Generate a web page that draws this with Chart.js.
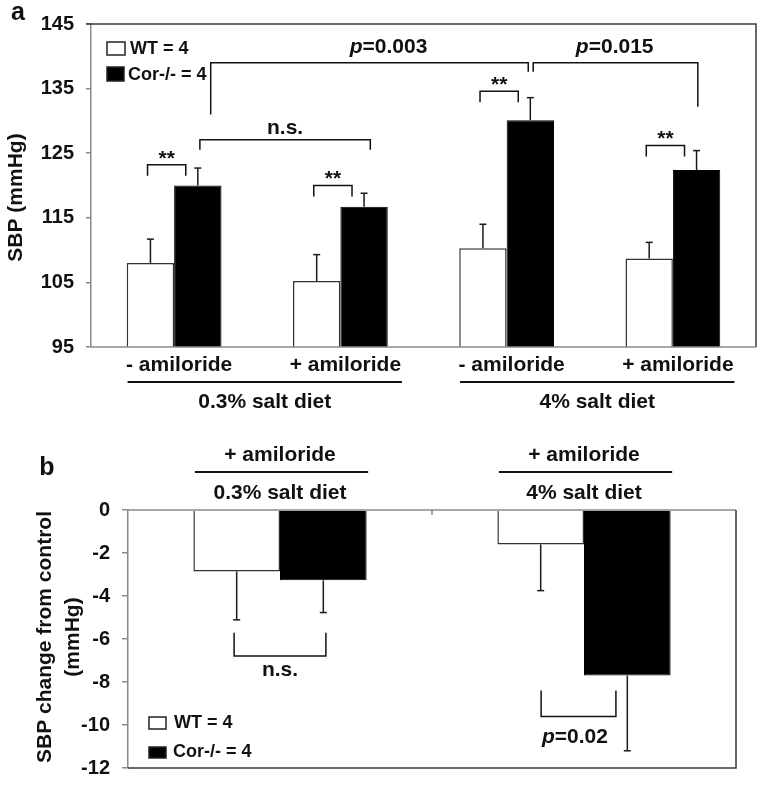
<!DOCTYPE html>
<html>
<head>
<meta charset="utf-8">
<script src="https://cdn.jsdelivr.net/npm/chart.js@4.4.0/dist/chart.umd.min.js"></script>
<style>
  body { margin: 0; background: #fff; }
  #wrap { position: relative; width: 762px; height: 792px; }
  canvas { position: absolute; left: 0; }
</style>
</head>
<body>
<div id="wrap">
  <canvas id="chartA" width="762" height="440" style="top:0"></canvas>
  <canvas id="chartB" width="762" height="352" style="top:440px"></canvas>
</div>
<script>
// panel a: SBP (mmHg)
const labelsA = ['- amiloride', '+ amiloride', '- amiloride', '+ amiloride'];
const dietsA = ['0.3% salt diet', '4% salt diet'];
const wtA = [108.0, 105.2, 110.3, 108.7];
const corA = [120.0, 116.7, 130.1, 122.4];
const wtErrA = [3.7, 4.1, 3.7, 2.5];
const corErrA = [2.7, 2.1, 3.5, 3.0];
const ticksA = [95, 105, 115, 125, 135, 145];

// panel b: SBP change from control
const labelsB = ['+ amiloride', '+ amiloride'];
const dietsB = ['0.3% salt diet', '4% salt diet'];
const wtB = [-2.86, -1.6];
const corB = [-3.27, -7.7];
const wtErrB = [2.25, 2.15];
const corErrB = [1.5, 3.5];
const ticksB = [-12, -10, -8, -6, -4, -2, 0];

const seriesNames = ['WT = 4', 'Cor-/- = 4'];

const FONT = '"Liberation Sans", Arial, sans-serif';
const GREY = '#8a8a8a';
const DARK = '#3a3a3a';
const INK = '#111';

function text(ctx, str, x, y, size, align) {
  ctx.font = `bold ${size}px ${FONT}`;
  ctx.fillStyle = INK;
  ctx.textAlign = align || 'center';
  ctx.textBaseline = 'middle';
  ctx.fillText(str, x, y);
}

function pText(ctx, val, x, y, size) {
  const fi = `italic bold ${size}px ${FONT}`, fb = `bold ${size}px ${FONT}`;
  ctx.font = fi; const w1 = ctx.measureText('p').width;
  ctx.font = fb; const w2 = ctx.measureText('=' + val).width;
  const x0 = x - (w1 + w2) / 2;
  ctx.fillStyle = INK;
  ctx.textAlign = 'left'; ctx.textBaseline = 'middle';
  ctx.font = fi; ctx.fillText('p', x0, y);
  ctx.font = fb; ctx.fillText('=' + val, x0 + w1, y);
}

function path(ctx, pts, color, width) {
  ctx.beginPath();
  ctx.strokeStyle = color || INK;
  ctx.lineWidth = width || 1.5;
  pts.forEach((p, i) => i ? ctx.lineTo(p[0], p[1]) : ctx.moveTo(p[0], p[1]));
  ctx.stroke();
}

function vText(ctx, str, x, y, size) {
  ctx.save();
  ctx.translate(x, y);
  ctx.rotate(-Math.PI / 2);
  text(ctx, str, 0, 0, size);
  ctx.restore();
}

function legendBox(ctx, x, y, w, h, fill) {
  ctx.fillStyle = fill;
  ctx.fillRect(x, y, w, h);
  ctx.strokeStyle = '#222';
  ctx.lineWidth = 1.5;
  ctx.strokeRect(x, y, w, h);
}

// error bars: dir = +1 up, -1 down
const errorBars = {
  id: 'errorBars',
  afterDatasetsDraw(chart, args, opts) {
    const ctx = chart.ctx, y = chart.scales.y;
    ctx.save();
    chart.data.datasets.forEach((ds, di) => {
      chart.getDatasetMeta(di).data.forEach((bar, i) => {
        const ye = y.getPixelForValue(ds.data[i] + opts.dir * ds.errors[i]);
        path(ctx, [[bar.x, bar.y], [bar.x, ye]], '#1a1a1a', 1.5);
        path(ctx, [[bar.x - 3.5, ye], [bar.x + 3.5, ye]], '#1a1a1a', 1.5);
      });
    });
    ctx.restore();
  }
};

function datasets(wt, cor, wtErr, corErr) {
  return [
    { label: seriesNames[0], data: wt, errors: wtErr, backgroundColor: '#fff',
      borderColor: '#333', borderWidth: 1.5, barPercentage: 1, categoryPercentage: 0.57 },
    { label: seriesNames[1], data: cor, errors: corErr, backgroundColor: '#000',
      borderColor: '#000', borderWidth: 1, barPercentage: 1, categoryPercentage: 0.57 }
  ];
}

function yScale(ticks, width, tickLen) {
  return {
    min: ticks[0],
    max: ticks[ticks.length - 1],
    afterBuildTicks: s => { s.ticks = ticks.map(v => ({ value: v })); },
    afterFit: s => { s.width = width; },
    grid: { drawOnChartArea: false, drawTicks: true, tickLength: tickLen, color: GREY, lineWidth: 1.5 },
    border: { display: true, color: GREY, width: 1.5 },
    ticks: { color: INK, padding: 12, font: { family: FONT, size: 20, weight: 'bold' } }
  };
}

const panelA = {
  id: 'panelA',
  afterDraw(chart) {
    const ctx = chart.ctx, a = chart.chartArea;
    const px = v => chart.scales.x.getPixelForValue(v);
    const py = v => chart.scales.y.getPixelForValue(v);
    ctx.save();
    // frame
    path(ctx, [[a.left - 5, a.top], [a.right, a.top], [a.right, a.bottom]], DARK, 1.5);
    path(ctx, [[a.left, a.bottom], [a.right, a.bottom]], GREY, 1.5);

    // ** brackets over each pair
    [123.2, 120.0, 134.6, 126.2].forEach((v, i) => {
      const x1 = px(i - 0.16), x2 = px(i + 0.07), yt = py(v);
      path(ctx, [[x1, yt + 11], [x1, yt], [x2, yt], [x2, yt + 11]]);
      text(ctx, '**', (x1 + x2) / 2, yt - 6, 21);
    });

    // n.s. between -/+ amiloride on 0.3% diet
    const n1 = px(0.155), n2 = px(1.18), ny = py(127.1);
    path(ctx, [[n1, ny + 10], [n1, ny], [n2, ny], [n2, ny + 10]]);
    text(ctx, 'n.s.', (n1 + n2) / 2, ny - 11, 21);

    // p=0.003 and p=0.015
    const top = py(139.0);
    path(ctx, [[px(0.22), py(131.0)], [px(0.22), top], [px(2.13), top], [px(2.13), py(137.6)]]);
    path(ctx, [[px(2.16), py(137.6)], [px(2.16), top], [px(3.15), top], [px(3.15), py(132.2)]]);
    pText(ctx, '0.003', px(1.29), py(141.4), 21);
    pText(ctx, '0.015', px(2.65), py(141.4), 21);

    // category labels and diet groups
    labelsA.forEach((l, i) => text(ctx, l, px(i) + 5, a.bottom + 18, 21));
    dietsA.forEach((d, g) => {
      const x1 = px(2 * g - 0.28), x2 = px(2 * g + 1.37);
      path(ctx, [[x1, a.bottom + 35], [x2, a.bottom + 35]], INK, 2);
      text(ctx, d, (x1 + x2) / 2, a.bottom + 55, 21);
    });

    // legend
    const ds = chart.data.datasets;
    legendBox(ctx, a.left + 16, a.top + 18, 18, 13, '#fff');
    text(ctx, ds[0].label, a.left + 39, a.top + 25, 18, 'left');
    legendBox(ctx, a.left + 16, a.top + 43, 17, 14, '#000');
    text(ctx, ds[1].label, a.left + 37, a.top + 51, 18, 'left');

    // axis title and panel letter
    vText(ctx, 'SBP (mmHg)', 16, (a.top + a.bottom) / 2 + 12, 21);
    text(ctx, 'a', 18, 13, 25);
    ctx.restore();
  }
};

const panelB = {
  id: 'panelB',
  afterDraw(chart) {
    const ctx = chart.ctx, a = chart.chartArea;
    const px = v => chart.scales.x.getPixelForValue(v);
    const py = v => chart.scales.y.getPixelForValue(v);
    ctx.save();
    // frame: zero line on top, box right/bottom
    path(ctx, [[a.left, a.top], [a.right, a.top]], GREY, 1.5);
    path(ctx, [[px(0.5), a.top], [px(0.5), a.top + 5]], GREY, 1.5);
    path(ctx, [[a.right, a.top], [a.right, a.bottom], [a.left, a.bottom]], DARK, 1.5);

    // labels above bars
    labelsB.forEach((l, i) => {
      text(ctx, l, px(i), a.top - 55, 21);
      path(ctx, [[px(i - 0.28), a.top - 38], [px(i + 0.29), a.top - 38]], INK, 2);
      text(ctx, dietsB[i], px(i), a.top - 17, 21);
    });

    // n.s. bracket (0.3% diet)
    const s1 = px(-0.151), s2 = px(0.151), sTop = py(-5.71), sBot = py(-6.79);
    path(ctx, [[s1, sTop], [s1, sBot], [s2, sBot], [s2, sTop]]);
    text(ctx, 'n.s.', (s1 + s2) / 2, py(-7.45), 21);

    // p=0.02 bracket (4% diet)
    const q1 = px(0.859), q2 = px(1.105), qTop = py(-8.39), qBot = py(-9.6);
    path(ctx, [[q1, qTop], [q1, qBot], [q2, qBot], [q2, qTop]]);
    pText(ctx, '0.02', px(0.97), py(-10.58), 21);

    // legend
    const ds = chart.data.datasets;
    legendBox(ctx, a.left + 21, a.top + 207, 17, 12, '#fff');
    text(ctx, ds[0].label, a.left + 46, a.top + 213, 18, 'left');
    legendBox(ctx, a.left + 21, a.top + 237, 17, 11, '#000');
    text(ctx, ds[1].label, a.left + 45, a.top + 242, 18, 'left');

    // axis title and panel letter
    const cy = (a.top + a.bottom) / 2 - 2;
    vText(ctx, 'SBP change from control', 45, cy, 21);
    vText(ctx, '(mmHg)', 73, cy, 21);
    text(ctx, 'b', 47, 28, 25);
    ctx.restore();
  }
};

function baseOptions(pad, yOpts, dir) {
  return {
    responsive: false,
    devicePixelRatio: 1,
    animation: false,
    events: [],
    layout: { padding: pad },
    scales: {
      x: { display: false, offset: true },
      y: yOpts
    },
    plugins: {
      legend: { display: false },
      tooltip: { enabled: false },
      errorBars: { dir: dir }
    }
  };
}

new Chart(document.getElementById('chartA'), {
  type: 'bar',
  data: { labels: labelsA, datasets: datasets(wtA, corA, wtErrA, corErrA) },
  options: baseOptions({ top: 14, right: 6, bottom: 93, left: 0 }, yScale(ticksA, 91, 5), 1),
  plugins: [errorBars, panelA]
});

new Chart(document.getElementById('chartB'), {
  type: 'bar',
  data: { labels: labelsB, datasets: datasets(wtB, corB, wtErrB, corErrB) },
  options: baseOptions({ top: 70, right: 26, bottom: 13, left: 0 }, yScale(ticksB, 128, 6), -1),
  plugins: [errorBars, panelB]
});
</script>
</body>
</html>
